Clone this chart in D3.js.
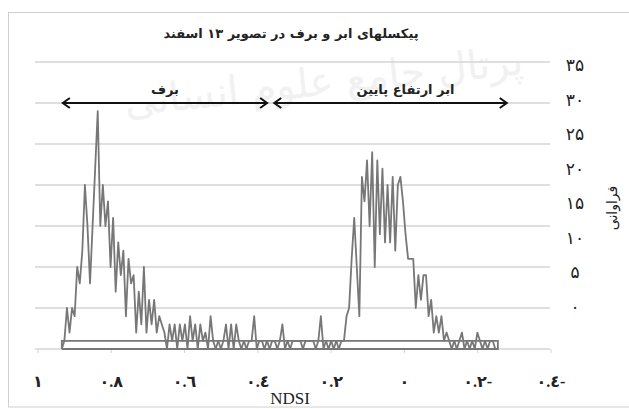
<!DOCTYPE html>
<html>
<head>
<meta charset="utf-8">
<script src="https://cdn.jsdelivr.net/npm/d3@7"></script>
<style>
  html, body { margin: 0; padding: 0; background: #ffffff; }
  svg { display: block; }
</style>
</head>
<body>
<svg id="chart" width="629" height="409"></svg>
<script>
// NDSI histogram of cloud and snow pixels (13 Esfand scene)
const chartTitle = "پیکسلهای ابر و برف در تصویر ۱۳ اسفند";
const xTitle = "NDSI";
const yTitle = "فراوانی";
const watermark = "پرتال جامع علوم انسانی";

// bins run from high NDSI (left) to low NDSI (right)
const binStart = 0.935;
const binStep = 0.007;
const frequency = [
  0, 1, 5, 2, 5, 4, 10, 8, 12, 20,
  15, 8, 15, 22, 29, 15, 20, 15, 18, 10,
  16, 7, 13, 9, 12, 4, 11, 8, 9, 2,
  7, 3, 10, 2, 6, 3, 6, 2, 4, 3,
  2, 0, 3, 1, 3, 0, 3, 1, 3, 0,
  4, 1, 3, 0, 3, 1, 2, 0, 4, 1,
  0, 1, 0, 1, 3, 0, 3, 0, 3, 1,
  0, 1, 0, 1, 1, 4, 0, 1, 1, 0,
  1, 0, 1, 1, 0, 1, 3, 0, 1, 0,
  1, 1, 1, 1, 0, 1, 1, 1, 1, 0,
  1, 4, 0, 1, 0, 1, 0, 1, 0, 1,
  1, 4, 5, 11, 16, 10, 4, 21, 18, 23,
  15, 24, 10, 23, 14, 22, 13, 20, 13, 21,
  12, 20, 21, 18, 14, 11, 11, 11, 5, 9,
  6, 9, 9, 4, 6, 2, 4, 2, 4, 1,
  2, 1, 0, 1, 0, 1, 2, 0, 1, 0,
  1, 0, 2, 1, 0, 1, 0, 1, 1, 0,
  0
];

// outline of the low-count band (counts 0 and 1) over the full bin range
const bandNdsi = [0.935, 0.935, -0.255, -0.255, 0.935];
const bandFreq = [0, 1, 1, 0, 0];

// axis ticks
const xTicks = [1, 0.8, 0.6, 0.4, 0.2, 0, -0.2, -0.4];
const xTickLabels = ["١", "٠.٨", "٠.٦", "٠.٤", "٠.٢", "٠", "٠.٢-", "٠.٤-"];
const yTicks = [0, 5, 10, 15, 20, 25, 30, 35];
const yTickLabels = ["۰", "۵", "۱۰", "۱۵", "۲۰", "۲۵", "۳۰", "۳۵"];

// class ranges marked with double arrows
const classNames = ["برف", "ابر ارتفاع پایین"];
const classFrom = [0.935, 0.358];
const classTo = [0.372, -0.282];
const classLevel = 30;

const svg = d3.select("#chart");
const persian = "'DejaVu Sans', sans-serif";

const x = d3.scaleLinear().domain([1, -0.4]).range([38, 551]);
const y = d3.scaleLinear().domain([0, 35]).range([349, 62]);
const yLabelPos = d3.scaleLinear().domain([0, 35]).range([307, 65]);

const gridLeft = 35, gridRight = 550;

// frame
svg.append("rect")
  .attr("x", 8.5).attr("y", 12.5)
  .attr("width", 640).attr("height", 394.5)
  .attr("fill", "#ffffff")
  .attr("stroke", "#cfcfcf").attr("stroke-width", 1);

// faint watermark
svg.append("text")
  .attr("x", 325).attr("y", 95)
  .attr("transform", "rotate(-6 325 95)")
  .attr("text-anchor", "middle")
  .attr("direction", "rtl")
  .attr("font-family", persian)
  .attr("font-size", 40)
  .attr("fill", "#f1f1f1")
  .text(watermark);

// horizontal gridlines
svg.append("g")
  .selectAll("line")
  .data(yTicks)
  .join("line")
  .attr("x1", gridLeft).attr("x2", gridRight)
  .attr("y1", d => y(d)).attr("y2", d => y(d))
  .attr("stroke", "#d4d4d4").attr("stroke-width", 1.4);

// x-axis tick marks
svg.append("g")
  .selectAll("line")
  .data(xTicks)
  .join("line")
  .attr("x1", d => x(d)).attr("x2", d => x(d))
  .attr("y1", y(0)).attr("y2", y(0) + 4)
  .attr("stroke", "#d4d4d4").attr("stroke-width", 1);

// x tick labels
svg.append("g")
  .selectAll("text")
  .data(xTicks)
  .join("text")
  .attr("x", d => x(d))
  .attr("y", 387)
  .attr("text-anchor", "middle")
  .attr("font-family", "'Liberation Serif', 'DejaVu Sans', serif")
  .attr("font-size", 16)
  .attr("font-weight", "bold")
  .attr("fill", "#222")
  .style("direction", "ltr")
  .style("unicode-bidi", "bidi-override")
  .text((d, i) => xTickLabels[i]);

// y tick labels (right side)
svg.append("g")
  .selectAll("text")
  .data(yTicks)
  .join("text")
  .attr("x", 575)
  .attr("y", d => yLabelPos(d))
  .attr("dy", "0.35em")
  .attr("text-anchor", "middle")
  .attr("font-family", persian)
  .attr("font-size", 17)
  .attr("fill", "#222")
  .style("direction", "ltr")
  .style("unicode-bidi", "bidi-override")
  .text((d, i) => yTickLabels[i]);

// axis titles
svg.append("text")
  .attr("x", 290).attr("y", 404)
  .attr("text-anchor", "middle")
  .attr("font-family", "'Liberation Serif', serif")
  .attr("font-size", 17)
  .attr("fill", "#222")
  .text(xTitle);

svg.append("text")
  .attr("transform", "translate(612,208) rotate(-90)")
  .attr("text-anchor", "middle")
  .attr("dy", "0.35em")
  .attr("direction", "rtl")
  .attr("font-family", persian)
  .attr("font-size", 14)
  .attr("fill", "#222")
  .text(yTitle);

// chart title
svg.append("text")
  .attr("x", 291).attr("y", 38)
  .attr("text-anchor", "middle")
  .attr("direction", "rtl")
  .attr("font-family", persian)
  .attr("font-size", 13)
  .attr("font-weight", "bold")
  .attr("fill", "#222")
  .text(chartTitle);

// histogram series
const series = frequency.map((f, i) => ({ ndsi: binStart - i * binStep, freq: f }));
const band = bandNdsi.map((n, i) => ({ ndsi: n, freq: bandFreq[i] }));

const line = d3.line().x(d => x(d.ndsi)).y(d => y(d.freq));

svg.append("path")
  .datum(band)
  .attr("d", line)
  .attr("fill", "none")
  .attr("stroke", "#777777")
  .attr("stroke-width", 1.8);

svg.append("path")
  .datum(series)
  .attr("d", line)
  .attr("fill", "none")
  .attr("stroke", "#777777")
  .attr("stroke-width", 1.8)
  .attr("stroke-linejoin", "round");

// class range arrows
const arrows = svg.append("g");
classNames.forEach((name, i) => {
  const x0 = x(classFrom[i]), x1 = x(classTo[i]), yy = y(classLevel);
  arrows.append("line")
    .attr("x1", x0 + 1).attr("x2", x1 - 1)
    .attr("y1", yy).attr("y2", yy)
    .attr("stroke", "#111").attr("stroke-width", 2);
  arrows.append("path")
    .attr("d", `M${x0 + 8},${yy - 5}L${x0 + 1},${yy}L${x0 + 8},${yy + 5}`)
    .attr("fill", "none").attr("stroke", "#111").attr("stroke-width", 2);
  arrows.append("path")
    .attr("d", `M${x1 - 8},${yy - 5}L${x1 - 1},${yy}L${x1 - 8},${yy + 5}`)
    .attr("fill", "none").attr("stroke", "#111").attr("stroke-width", 2);
  arrows.append("text")
    .attr("x", (x0 + x1) / 2 + (i === 0 ? 0 : 15))
    .attr("y", yy - 9)
    .attr("text-anchor", "middle")
    .attr("direction", "rtl")
    .attr("font-family", persian)
    .attr("font-size", 13)
    .attr("font-weight", "bold")
    .attr("fill", "#222")
    .text(name);
});
</script>
</body>
</html>
